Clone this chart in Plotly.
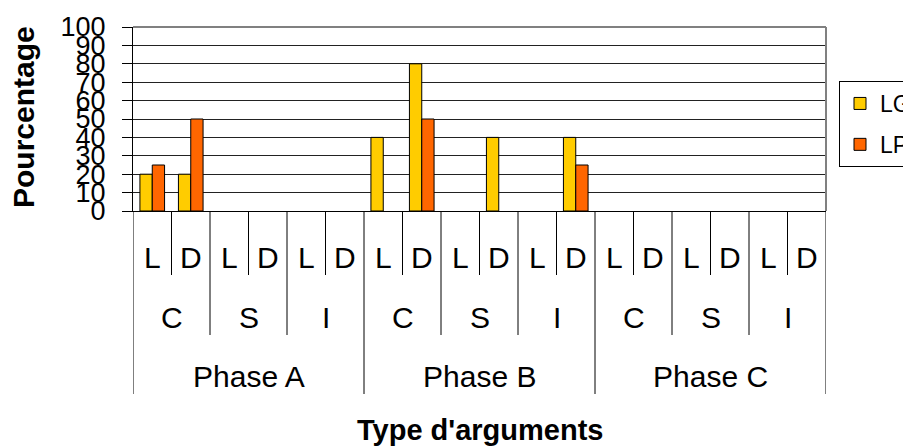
import plotly.graph_objects as go

# Category hierarchy (outer -> inner)
phases = ["Phase A", "Phase B", "Phase C"]
groups = ["C", "S", "I"]
kinds = ["L", "D"]

# Percentages per category (18 = 3 phases x 3 groups x 2 kinds), None = no bar
lg_values = [20, 20, None, None, None, None,
             40, 80, None, 40, None, 40,
             None, None, None, None, None, None]
lp_values = [25, 50, None, None, None, None,
             None, 50, None, None, None, 25,
             None, None, None, None, None, None]

FONT = "Arial, Liberation Sans, sans-serif"
n_cat = len(phases) * len(groups) * len(kinds)
x_idx = list(range(n_cat))

fig = go.Figure()
fig.add_trace(go.Bar(x=x_idx, y=lg_values, name="LG", legendgroup="LG",
                     marker=dict(color="#FFCC00", line=dict(color="black", width=1))))
fig.add_trace(go.Bar(x=x_idx, y=lp_values, name="LP", legendgroup="LP",
                     marker=dict(color="#FF6600", line=dict(color="black", width=1))))

# pixel -> paper helpers (plot area is 184px tall, bottom at 211px of the page)
def ypap(px):
    return (211 - px) / 184.0

def xpap(px):
    return (px - 133) / 693.0

shapes = []
# dividers under the axis
for i in range(n_cat + 1):
    if i % 6 == 0:
        bottom = 394
    elif i % 2 == 0:
        bottom = 335
    else:
        bottom = 275
    shapes.append(dict(type="line", xref="x", yref="paper", x0=i - 0.5, x1=i - 0.5,
                       y0=0, y1=ypap(bottom), line=dict(color="black", width=1)))
# grey top/right border of plot area
shapes.append(dict(type="line", xref="paper", yref="paper", x0=0, x1=1, y0=1, y1=1,
                   line=dict(color="#808080", width=2)))
shapes.append(dict(type="line", xref="paper", yref="paper", x0=1, x1=1, y0=0, y1=1,
                   line=dict(color="#808080", width=2)))

annotations = []
cat_font = dict(family=FONT, size=30, color="black")
for i in x_idx:
    annotations.append(dict(x=i, y=ypap(257), xref="x", yref="paper", text=kinds[i % 2],
                            showarrow=False, font=cat_font, yanchor="middle"))
for g in range(len(phases) * len(groups)):
    annotations.append(dict(x=2 * g + 0.5, y=ypap(317), xref="x", yref="paper",
                            text=groups[g % 3], showarrow=False, font=cat_font,
                            yanchor="middle"))
for p, name in enumerate(phases):
    annotations.append(dict(x=6 * p + 2.5, y=ypap(376), xref="x", yref="paper",
                            text=name, showarrow=False, font=cat_font, yanchor="middle"))
annotations.append(dict(x=0.5, y=ypap(430), xref="paper", yref="paper",
                        text="<b>Type d'arguments</b>", showarrow=False,
                        xanchor="center", yanchor="middle",
                        font=dict(family=FONT, size=29, color="black")))
annotations.append(dict(x=xpap(24), y=ypap(117), xref="paper", yref="paper",
                        text="<b>Pourcentage</b>", textangle=-90, showarrow=False,
                        xanchor="center", yanchor="middle",
                        font=dict(family=FONT, size=30, color="black")))

# page body has an 8px margin, so the figure starts at (8, 8)
fig.update_layout(
    width=903, height=438,
    margin=dict(l=125, r=85, t=19, b=235, autoexpand=False),
    paper_bgcolor="white", plot_bgcolor="white",
    barmode="group", bargap=0.36, bargroupgap=0,
    font=dict(family=FONT, color="black"),
    xaxis=dict(range=[-0.5, n_cat - 0.5], showticklabels=False, showgrid=False,
               zeroline=False, showline=True, linecolor="black", linewidth=1, ticks=""),
    yaxis=dict(range=[0, 100], dtick=10, tick0=0, ticks="outside", ticklen=10,
               tickcolor="black", showline=True, linecolor="black", linewidth=1,
               showgrid=True, gridcolor="#222222", gridwidth=1, zeroline=False,
               tickfont=dict(family=FONT, size=27, color="black"),
               ticklabelstandoff=11),
    legend=dict(x=xpap(839), y=ypap(81), xanchor="left", yanchor="top",
                bordercolor="black", borderwidth=1, bgcolor="white",
                font=dict(family=FONT, size=23, color="black"),
                tracegroupgap=8, itemwidth=30),
    shapes=shapes,
    annotations=annotations,
)

fig.write_html("out.html")
